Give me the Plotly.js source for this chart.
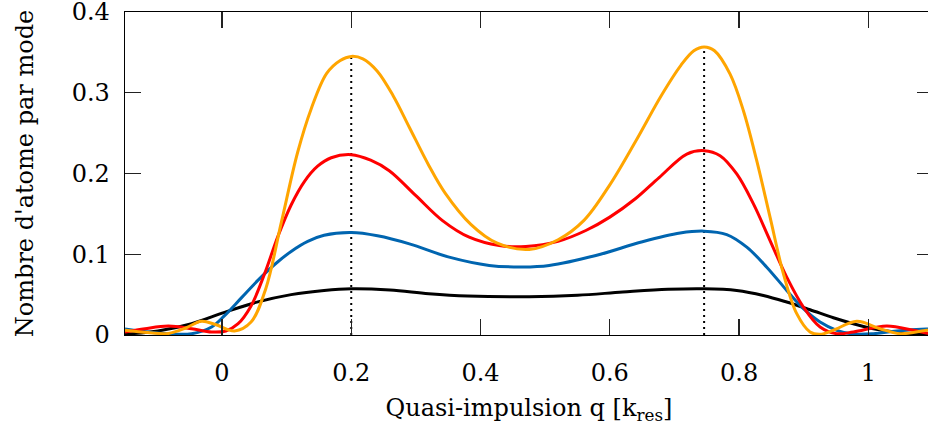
<!DOCTYPE html>
<html>
<head>
<meta charset="utf-8">
<script src="https://cdn.plot.ly/plotly-3.0.1.min.js"></script>
<style>
html, body { margin: 0; padding: 0; overflow: hidden; background: #fff; }
#plot { width: 945px; height: 440px; }
</style>
</head>
<body>
<div id="plot"></div>
<script>
// Quasi-momentum samples q and atom number per mode for each curve
const qBlack = [-0.15, -0.099, -0.047, 0.004, 0.0555, 0.107, 0.158, 0.2, 0.26, 0.32, 0.38, 0.4753, 0.55, 0.62, 0.69, 0.7459, 0.7964, 0.8376, 0.8737, 0.9098, 0.9459, 0.9768, 1.0077, 1.049, 1.0897, 1.1];
const nBlack = [0.001, 0.005, 0.014, 0.028, 0.041, 0.050, 0.0552, 0.0573, 0.0558, 0.0512, 0.0483, 0.0474, 0.0492, 0.0532, 0.0566, 0.0573, 0.0552, 0.049, 0.0408, 0.0313, 0.0214, 0.014, 0.0078, 0.0029, 0.0008, 0.0006];

const qBlue = [-0.15, -0.099, -0.047, -0.016, 0.004, 0.030, 0.0555, 0.081, 0.107, 0.1327, 0.158, 0.2, 0.2406, 0.29, 0.3515, 0.4134, 0.465, 0.5062, 0.5784, 0.6505, 0.7088, 0.7459, 0.7809, 0.8119, 0.8428, 0.8737, 0.8995, 0.9253, 0.951, 0.9768, 1.0077, 1.0438, 1.0897, 1.1];
const nBlue = [0.0074, 0.0025, 0.0016, 0.0099, 0.024, 0.046, 0.0676, 0.087, 0.1035, 0.116, 0.1235, 0.1268, 0.1228, 0.1128, 0.0964, 0.0862, 0.0843, 0.0862, 0.0985, 0.1155, 0.1262, 0.1286, 0.1244, 0.1088, 0.084, 0.0552, 0.0326, 0.0161, 0.0058, 0.0012, 0.0016, 0.0049, 0.0074, 0.0076];

const qRed = [-0.15, -0.119, -0.083, -0.047, -0.016, 0.006, 0.025, 0.045, 0.066, 0.086, 0.107, 0.1275, 0.148, 0.169, 0.2, 0.23, 0.2588, 0.3, 0.3412, 0.3825, 0.4289, 0.47, 0.52, 0.5629, 0.6, 0.64, 0.6763, 0.7191, 0.7459, 0.7706, 0.7964, 0.8222, 0.8479, 0.8737, 0.8995, 0.9253, 0.951, 0.9768, 1.0284, 1.0696, 1.0897, 1.1];
const nRed = [0.0037, 0.0078, 0.011, 0.0078, 0.0037, 0.005, 0.014, 0.036, 0.076, 0.121, 0.161, 0.19, 0.209, 0.2195, 0.2233, 0.2165, 0.2035, 0.1726, 0.1417, 0.1211, 0.1108, 0.1097, 0.116, 0.1294, 0.146, 0.169, 0.195, 0.2241, 0.2283, 0.2221, 0.1994, 0.1623, 0.117, 0.0717, 0.0346, 0.0099, 0.0016, 0.0037, 0.0111, 0.0058, 0.0025, 0.0015];

const qOrange = [-0.15, -0.115, -0.083, -0.055, -0.032, -0.01, 0.0195, 0.045, 0.068, 0.092, 0.117, 0.138, 0.162, 0.183, 0.2, 0.218, 0.24, 0.265, 0.29, 0.32, 0.345, 0.385, 0.425, 0.4753, 0.52, 0.56, 0.6, 0.64, 0.68, 0.71, 0.73, 0.7459, 0.762, 0.7861, 0.8067, 0.8273, 0.8479, 0.8686, 0.8892, 0.9098, 0.9253, 0.946, 0.982, 1.018, 1.049, 1.0897, 1.1];
const nOrange = [0.006, 0.003, 0.002, 0.009, 0.017, 0.013, 0.005, 0.016, 0.058, 0.140, 0.226, 0.280, 0.324, 0.340, 0.345, 0.342, 0.327, 0.296, 0.257, 0.210, 0.176, 0.137, 0.114, 0.106, 0.118, 0.142, 0.186, 0.240, 0.297, 0.334, 0.352, 0.3568, 0.352, 0.323, 0.2777, 0.2159, 0.1459, 0.0758, 0.0264, 0.0037, 0.0008, 0.006, 0.0169, 0.0078, 0.0016, 0.0058, 0.0065];

// Peak positions (dotted markers)
const peakQ = [0.2, 0.7459];
const peakN = [0.345, 0.3568];

// Axis ticks
const xTickVals = [0, 0.2, 0.4, 0.6, 0.8, 1];
const xTickText = ["0", "0.2", "0.4", "0.6", "0.8", "1"];
const yTickVals = [0, 0.1, 0.2, 0.3, 0.4];
const yTickText = ["0", "0.1", "0.2", "0.3", "0.4"];

const FONT = "DejaVu Serif, serif";
const FSIZE = 24;

const traces = [];
peakQ.forEach((q, i) => {
  traces.push({
    x: [q, q], y: [0, peakN[i]], mode: 'lines', type: 'scatter',
    line: {color: '#000', width: 2, dash: '2px,4px'}, hoverinfo: 'skip', showlegend: false
  });
});
const series = [
  [qBlack, nBlack, '#000000'],
  [qBlue, nBlue, '#0065b0'],
  [qRed, nRed, '#ff0000'],
  [qOrange, nOrange, '#ffa500']
];
series.forEach(s => {
  traces.push({
    x: s[0], y: s[1], mode: 'lines', type: 'scatter',
    line: {color: s[2], width: 3, shape: 'spline', smoothing: 1},
    showlegend: false
  });
});

const axisCommon = {
  showline: true, mirror: 'ticks', linecolor: '#000', linewidth: 1.3,
  ticks: 'inside', ticklen: 16, tickwidth: 1.3, tickcolor: '#222',
  showgrid: false, zeroline: false,
  tickfont: {family: FONT, size: FSIZE, color: '#000'}
};

const layout = {
  width: 945, height: 440,
  margin: {l: 125, r: 12, t: 12, b: 105},
  paper_bgcolor: '#fff', plot_bgcolor: '#fff',
  showlegend: false,
  font: {family: FONT, size: FSIZE, color: '#000'},
  xaxis: Object.assign({}, axisCommon, {
    range: [-0.15, 1.1], tickvals: xTickVals, ticktext: xTickText,
    ticklabelstandoff: 16, ticklabeloverflow: 'allow',
    title: {text: 'Quasi-impulsion q [k<sub>res</sub>]', font: {family: FONT, size: FSIZE, color: '#000'}, standoff: 13}
  }),
  yaxis: Object.assign({}, axisCommon, {
    range: [0, 0.4], tickvals: yTickVals, ticktext: yTickText,
    ticklabelstandoff: 9, ticklabeloverflow: 'allow',
    title: {text: "Nombre d'atome par mode", font: {family: FONT, size: FSIZE, color: '#000'}, standoff: 31}
  })
};

Plotly.newPlot('plot', traces, layout, {staticPlot: true, displayModeBar: false});
</script>
</body>
</html>
